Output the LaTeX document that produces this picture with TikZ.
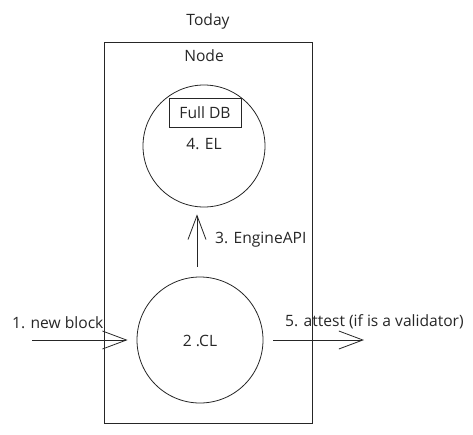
\documentclass[tikz,border=0pt]{standalone}
\usepackage{fontspec}
\setmainfont{Open Sans}
\usetikzlibrary{arrows.meta}
\tikzset{
  ln/.style={line width=0.8pt, draw=black!85},
  lbl/.style={font=\fontsize{15.6}{18}\selectfont, text=black!85, inner sep=0pt},
  circ/.style={ln, circle, minimum size=124pt, inner sep=0pt},
  barb/.style={ln, -{Straight Barb[length=24pt,width=18pt,line width=0.8pt]}},
}
\begin{document}
\begin{tikzpicture}[x=1pt,y=-1pt]
\useasboundingbox (0,0) rectangle (473,434);
\node[lbl] (today) at (208,21) {Today};
\node[ln, draw, minimum width=208pt, minimum height=381pt, inner sep=0pt] (nodebox) at (208,232.5) {};
\node[lbl] (nodelbl) at (204,56) {Node};
\node[circ, minimum size=122pt] (el) at (204,146) {};
\node[ln, draw, minimum width=72pt, minimum height=29pt, lbl] (db) at (205,112.5) {Full DB};
\node[lbl] (ellbl) at (204,144) {4. EL};
\node[circ, minimum size=126pt] (cl) at (200,340) {};
\node[lbl] (cllbl) at (200,341) {2 .CL};
\coordinate (in) at (32,340);
\coordinate (out) at (364,340);
\draw[barb] (in) -- ([xshift=-9pt]cl.west);
\draw[barb] ([xshift=10pt]cl.east) -- (out);
\draw[barb] ([xshift=-3pt,yshift=10pt]cl.north) -- ([xshift=-7pt,yshift=-7pt]el.south);
\node[lbl, anchor=west] (l1) at (12,323) {1. new block};
\node[lbl, anchor=west] (l3) at (215,240) {3. EngineAPI};
\node[lbl, anchor=west] (l5) at (285,322) {5. attest (if is a validator)};
\end{tikzpicture}
\end{document}
